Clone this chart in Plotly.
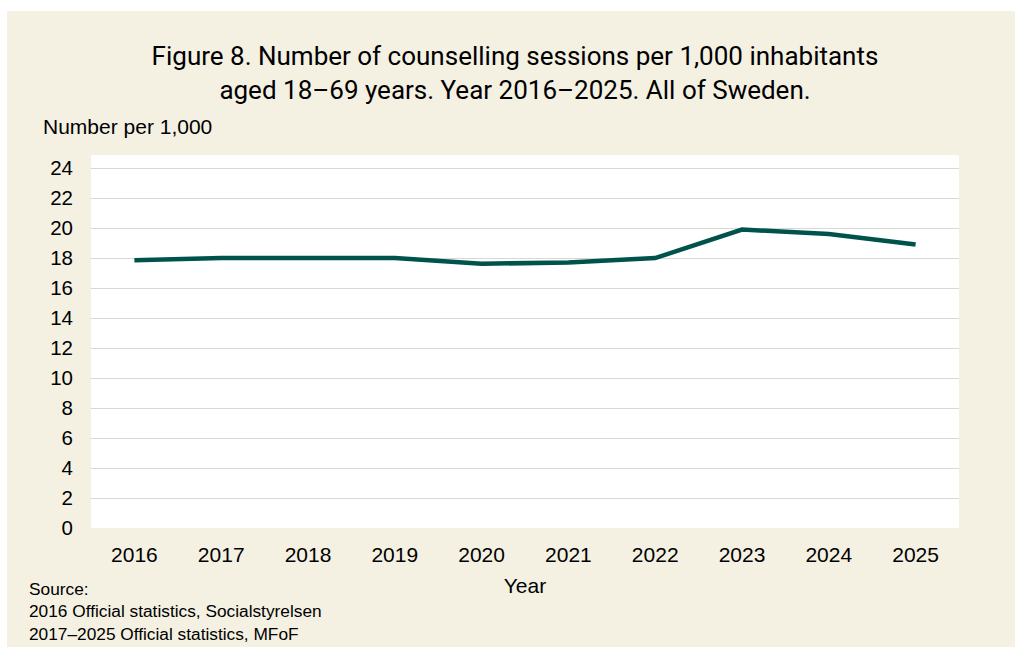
import plotly.graph_objects as go

years = ["2016", "2017", "2018", "2019", "2020", "2021", "2022", "2023", "2024", "2025"]
sessions = [17.85, 18.0, 18.0, 18.0, 17.62, 17.7, 18.0, 19.9, 19.6, 18.9]
y_ticks = list(range(0, 25, 2))

CREAM = "#F4F1E3"
W, H = 1015, 647
L, R, T, B = 91, 56, 155, 119
pw, ph = W - L - R, H - T - B

def px(x):
    return (x - L) / pw

def py(y):
    return (H - B - y) / ph

fig = go.Figure()
fig.add_trace(go.Scatter(
    x=years, y=sessions, mode="lines",
    line=dict(color="#00534B", width=4.5),
    hoverinfo="x+y", showlegend=False,
))

fig.update_layout(
    width=W, height=H,
    margin=dict(l=L, r=R, t=T, b=B),
    paper_bgcolor=CREAM, plot_bgcolor="white",
    font=dict(family="Liberation Sans, Arial, sans-serif", size=21, color="#000000"),
    title=dict(
        text="Figure 8. Number of counselling sessions per 1,000 inhabitants<br>aged 18\u201369 years. Year 2016\u20132025. All of Sweden.",
        font=dict(family="Roboto, sans-serif", size=26, color="#000000"),
        x=515 / W, xanchor="center", y=1 - 65 / H, yanchor="top",
    ),
    xaxis=dict(
        type="category", range=[-0.5, 9.5], showgrid=False, zeroline=False,
        showline=False, ticks="", ticklabelstandoff=12,
        title=dict(text="Year", font=dict(size=21), standoff=13),
    ),
    yaxis=dict(
        range=[0, 24.87], tickvals=y_ticks, ticktext=[str(v) for v in y_ticks],
        tickfont=dict(size=20.5),
        showgrid=True, gridcolor="#DAD9D0", gridwidth=1, zeroline=False,
        showline=False, ticks="", ticklabelstandoff=17,
    ),
    shapes=[
        dict(type="rect", xref="paper", yref="paper", x0=px(-5), x1=px(W + 5),
             y0=py(11), y1=py(-5), fillcolor="white", line=dict(width=0), layer="above"),
        dict(type="rect", xref="paper", yref="paper", x0=px(-5), x1=px(7),
             y0=py(H + 5), y1=py(-5), fillcolor="white", line=dict(width=0), layer="above"),
    ],
    annotations=[
        dict(text="Number per 1,000", xref="paper", yref="paper", x=px(41), y=py(127),
             xanchor="left", yanchor="middle", showarrow=False, font=dict(size=21)),
        dict(text="Source:<br>2016 Official statistics, Socialstyrelsen<br>2017\u20132025 Official statistics, MFoF",
             xref="paper", yref="paper", x=px(27), y=py(577), xanchor="left", yanchor="top",
             align="left", showarrow=False, font=dict(size=17.3)),
    ],
)

fig.write_html(
    "out.html",
    config={"displayModeBar": False},
    post_script="document.body.style.margin='0';document.body.style.overflow='hidden';",
)
